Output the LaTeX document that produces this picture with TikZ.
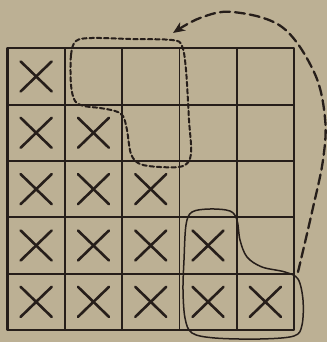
\documentclass[tikz,border=0pt]{standalone}
\usetikzlibrary{arrows.meta,calc}
\definecolor{kertas}{RGB}{188,176,148}
\definecolor{tinta}{RGB}{38,30,26}
\begin{document}
\begin{tikzpicture}[x=1pt,y=-1pt,line cap=round,line join=round,
    garis/.style={tinta,line width=1.8pt},
    silang/.style={tinta,line width=2.6pt},
    putus/.style={tinta,line width=2pt,dash pattern=on 4.5pt off 2.8pt},
    panah/.style={tinta,line width=2.3pt,dash pattern=on 10pt off 5pt}]
      % Latar belakang kertas
      \fill[kertas] (0,0) rectangle (327,342);
      \useasboundingbox (0,0) rectangle (327,342);

      % Titik sudut kotak 5x5
      \coordinate (A) at (7.5,330);
      \coordinate (B) at (294,330);
      \coordinate (C) at (294,48.3);
      \coordinate (D) at (7.5,48.3);

      % Garis-garis kotak
      \foreach \i in {1,...,4}{
          \draw[garis] (7.5+57.3*\i,48.3) -- (7.5+57.3*\i,330);
          \draw[garis] (7.5,48.3+56.35*\i) -- (294,48.3+56.35*\i);
        }
      \draw[garis,line width=2.4pt] (A) -- (B) -- (C) -- (D) -- cycle;

      % Tanda silang pada segitiga bawah
      \foreach \r in {1,...,5}{
          \foreach \c in {1,...,\r}{
              \coordinate (X\r\c) at (7.5+57.3*\c-28.65,48.3+56.35*\r-28.2);
              \draw[silang] ($(X\r\c)+(-15.5,-15)$) -- ($(X\r\c)+(15.5,15)$);
              \draw[silang] ($(X\r\c)+(-15.5,15)$) -- ($(X\r\c)+(15.5,-15)$);
            }
        }

      % Daerah bertitik-titik di atas
      \draw[putus] plot[smooth cycle,tension=0.55] coordinates {
          (71,85) (71,55) (76,41) (92,38) (130,39) (172,40) (182,46)
          (186,70) (189,120) (191,154) (183,166) (160,167) (140,164)
          (131,154) (127,130) (123,116) (115,111) (100,108) (84,106) (75,101)};

      % Daerah yang dilingkari di kanan bawah
      \draw[tinta,line width=1.5pt] plot[smooth cycle,tension=0.55] coordinates {
          (184,260) (186,225) (192,212) (210,209) (230,211) (237,220)
          (240,240) (247,257) (262,267) (285,272) (298,279) (303,300)
          (302,325) (294,336) (260,339) (215,338) (192,333) (185,318) (183,290)};

      % Panah putus-putus dari bawah ke atas
      \coordinate (awal) at (298,272);
      \coordinate (akhir) at (173,33);
      \draw[panah,-{Stealth[length=12pt,width=10pt]}] plot[smooth,tension=0.6] coordinates {
          (awal) (312,212) (323,160) (325,118) (314,72) (282,27) (233,12) (200,18) (akhir)};
    \end{tikzpicture}
\end{document}
